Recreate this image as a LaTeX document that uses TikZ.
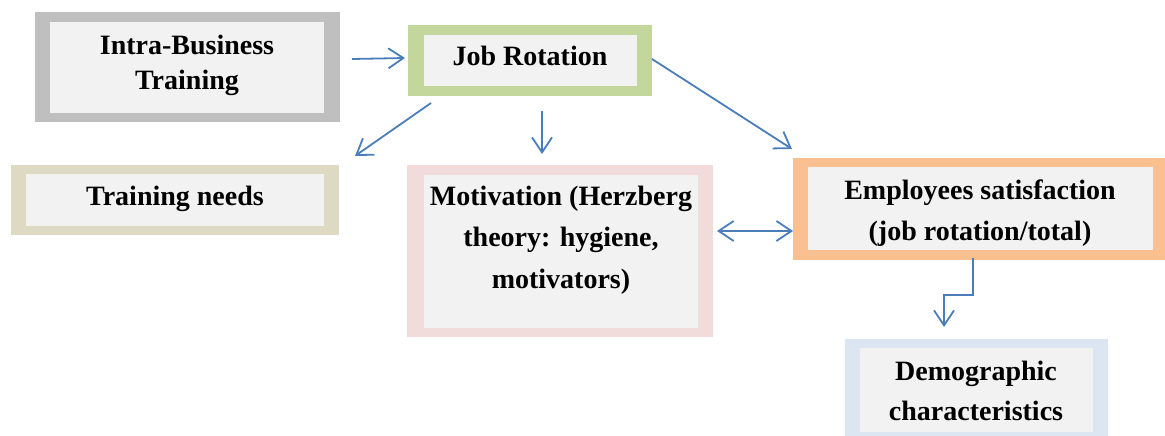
\documentclass[tikz,border=0pt]{standalone}
\usepackage{fontspec}
\setmainfont{Liberation Serif}
\usetikzlibrary{arrows.meta}
\definecolor{fillgray}{HTML}{F2F2F2}
\definecolor{cgray}{HTML}{BFBFBF}
\definecolor{cgreen}{HTML}{C3D69B}
\definecolor{cpink}{HTML}{F2DCDB}
\definecolor{corange}{HTML}{FAC090}
\definecolor{cblue}{HTML}{DCE6F2}
\definecolor{ctan}{HTML}{DDD9C3}
\definecolor{arrowblue}{HTML}{4A7EBB}
\tikzset{
  frame/.style={rectangle, inner sep=0pt, outer sep=0pt, draw=none},
  inbox/.style={rectangle, inner sep=0pt, outer sep=0pt, draw=none, fill=fillgray},
  lbl/.style={inner sep=0pt, outer sep=0pt, align=center, anchor=base,
    font=\fontsize{28}{34}\selectfont\bfseries},
  barb/.style={Straight Barb[length=15pt,width=20pt,line width=1.8pt]},
  arr/.style={draw=arrowblue, line width=1.8pt, -{Straight Barb[length=15pt,width=20pt,line width=1.8pt]}},
  darr/.style={draw=arrowblue, line width=1.8pt, {Straight Barb[length=15pt,width=20pt,line width=1.8pt]}-{Straight Barb[length=15pt,width=20pt,line width=1.8pt]}}
}
\begin{document}
\begin{tikzpicture}[x=1pt,y=-1pt]
\useasboundingbox (0,0) rectangle (1165,436);
% Intra-Business Training
\node[frame, fill=cgray, minimum width=305pt, minimum height=110pt] (ib) at (187.5,67) {};
\node[inbox, minimum width=274pt, minimum height=91pt] (ibin) at (187,67.5) {};
\node[lbl, font=\fontsize{28}{35}\selectfont\bfseries] (ibt) at (187,89) {Intra-Business\\Training};
% Job Rotation
\node[frame, fill=cgreen, minimum width=244pt, minimum height=71pt] (jr) at (530,60.5) {};
\node[inbox, minimum width=213pt, minimum height=51pt] (jrin) at (530.5,60.5) {};
\node[lbl] (jrt) at (530,66) {Job Rotation};
% Training needs
\node[frame, fill=ctan, minimum width=328pt, minimum height=70pt] (tn) at (175,200) {};
\node[inbox, minimum width=298pt, minimum height=52pt] (tnin) at (175,200) {};
\node[lbl] (tnt) at (175,205) {Training needs};
% Motivation
\node[frame, fill=cpink, minimum width=306pt, minimum height=172pt] (mo) at (560,251) {};
\node[inbox, minimum width=274pt, minimum height=153pt] (moin) at (561,251.5) {};
\node[lbl, font=\fontsize{28}{41.5}\selectfont\bfseries] (mot) at (561,288) {Motivation (Herzberg\\theory: hygiene,\\motivators)};
% Employees satisfaction
\node[frame, fill=corange, minimum width=372pt, minimum height=102pt] (es) at (979,209) {};
\node[inbox, minimum width=345pt, minimum height=83pt] (esin) at (980.5,208.5) {};
\node[lbl, font=\fontsize{28}{41}\selectfont\bfseries] (est) at (980,240) {Employees satisfaction\\(job rotation/total)};
% Demographic characteristics
\node[frame, fill=cblue, minimum width=263pt, minimum height=97pt] (dc) at (976.5,387.5) {};
\node[inbox, minimum width=233pt, minimum height=84pt] (dcin) at (976.5,390) {};
\node[lbl, font=\fontsize{28}{40}\selectfont\bfseries] (dct) at (976,420) {Demographic\\characteristics};
% connectors
\draw[arr] ([xshift=12pt,yshift=8pt]ib.east) -- ([xshift=-3pt,yshift=2.5pt]jr.west);
\draw[arr] ([xshift=23pt,yshift=-7pt]jr.south west) -- ([xshift=16pt,yshift=9pt]tn.north east);
\draw[arr] ([xshift=12pt,yshift=-15pt]jr.south) -- ([xshift=-18pt,yshift=11pt]mo.north);
\draw[arr] ([yshift=1.5pt]jr.east) -- ([xshift=-1pt,yshift=9pt]es.north west);
\draw[darr] ([xshift=4pt,yshift=20pt]mo.east) -- ([yshift=-22pt]es.west);
\draw[arr] ([xshift=-6pt,yshift=2pt]es.south) |- ([xshift=-32.5pt,yshift=44pt]dc.north) -- ([xshift=-32.5pt,yshift=12pt]dc.north);
\end{tikzpicture}
\end{document}
